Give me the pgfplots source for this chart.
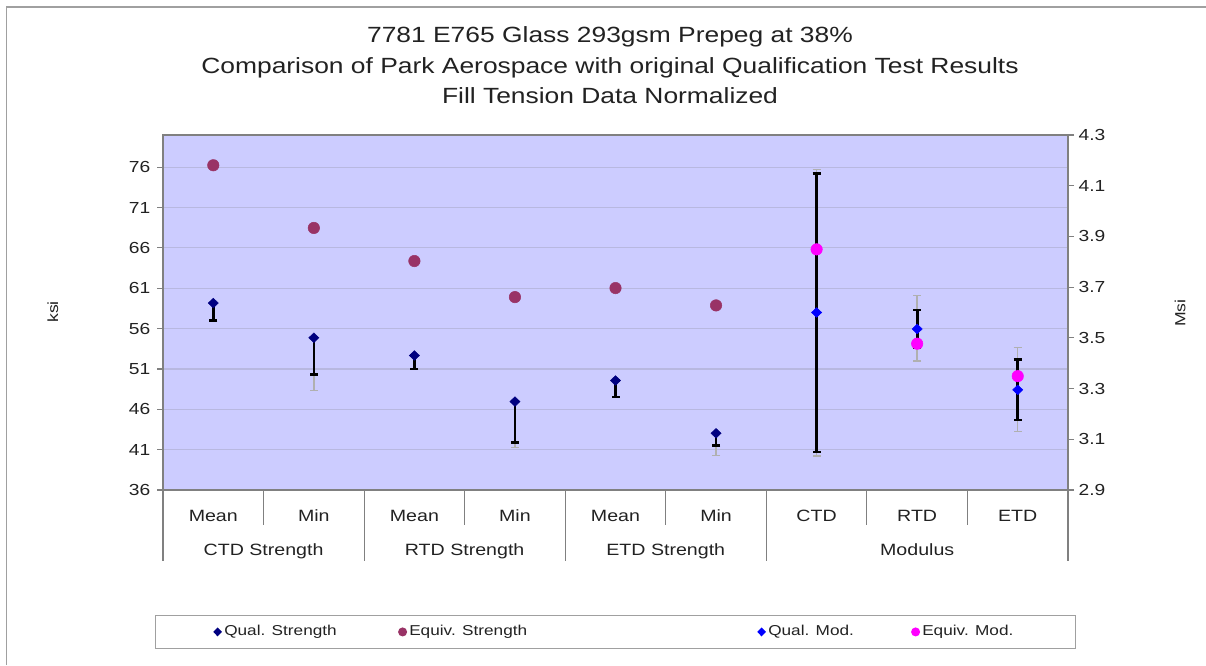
\documentclass[border=0pt]{standalone}
\usepackage{pgfplots}
\pgfplotsset{compat=1.18}
\usepackage{fontspec}
\setmainfont{Liberation Sans}[FakeStretch=1.2]
\definecolor{plotbg}{HTML}{CCCCFF}
\definecolor{gridcol}{RGB}{184,184,224}
\definecolor{axisgray}{HTML}{808080}
\definecolor{framecol}{HTML}{A0A0A0}
\definecolor{textcol}{HTML}{222222}
\definecolor{qnavy}{HTML}{000080}
\definecolor{eplum}{HTML}{993366}
\definecolor{qblue}{HTML}{0000FF}
\definecolor{emag}{HTML}{FF00FF}
\definecolor{errgrey}{HTML}{B0B0B0}
\pgfplotsset{legimg/.style={legend image code/.code={\draw[##1] plot coordinates {(0pt,0pt)}; \path (-#1,-3.5pt) rectangle (3.5pt,3.5pt);}}}
\begin{document}
\begin{tikzpicture}
\path[use as bounding box, fill=white] (0,0) rectangle (904.5pt,498.75pt);
\draw[framecol, line width=1.2pt] (5pt,0) -- (5pt,493.5pt) -- (904.5pt,493.5pt);
\node[anchor=base, font=\fontsize{16.5}{19}\selectfont, text=textcol] at (457.5pt,466.5pt) {7781 E765 Glass 293gsm Prepeg at 38\%};
\node[anchor=base, font=\fontsize{16.5}{19}\selectfont, text=textcol] at (457.5pt,443.25pt) {Comparison of Park Aerospace with original Qualification Test Results};
\node[anchor=base, font=\fontsize{16.5}{19}\selectfont, text=textcol] at (457.5pt,420.75pt) {Fill Tension Data Normalized};
\node[rotate=90, font=\fontsize{11}{13}\selectfont, text=textcol] at (39.75pt,264.75pt) {ksi};
\node[rotate=90, font=\fontsize{11}{13}\selectfont, text=textcol] at (885pt,264pt) {Msi};

\begin{axis}[
  at={(122.25pt,131.25pt)}, anchor=south west,
  width=678.75pt, height=266.25pt, scale only axis,
  xmin=-0.5, xmax=8.5, ymin=36, ymax=80,
  axis background/.style={fill=plotbg},
  axis line style={draw=axisgray, line width=1pt},
  xtick={0,...,8}, xticklabels={Mean,Min,Mean,Min,Mean,Min,CTD,RTD,ETD},
  xtick style={draw=none},
  ytick={36,41,...,76},
  ytick pos=left, tick align=outside, major tick length=4.5pt,
  ytick style={draw=axisgray, line width=0.8pt},
  ymajorgrids, grid style={draw=gridcol, line width=0.8pt},
  yticklabel style={font=\fontsize{12}{14}\selectfont, text=textcol, xshift=-1.5pt, /pgf/number format/assume math mode=true},
  xticklabel style={font=\fontsize{12.25}{14}\selectfont, text=textcol, anchor=base, yshift=-18.75pt},
  clip=false,
]
% separators under the axis
\draw[axisgray, line width=0.9pt] (axis cs:0.5,36) -- ++(0pt,-26.25pt);
\draw[axisgray, line width=0.9pt] (axis cs:2.5,36) -- ++(0pt,-26.25pt);
\draw[axisgray, line width=0.9pt] (axis cs:4.5,36) -- ++(0pt,-26.25pt);
\draw[axisgray, line width=0.9pt] (axis cs:6.5,36) -- ++(0pt,-26.25pt);
\draw[axisgray, line width=0.9pt] (axis cs:7.5,36) -- ++(0pt,-26.25pt);
\draw[axisgray, line width=0.9pt] (axis cs:-0.5,36) -- ++(0pt,-53.25pt);
\draw[axisgray, line width=0.9pt] (axis cs:1.5,36) -- ++(0pt,-53.25pt);
\draw[axisgray, line width=0.9pt] (axis cs:3.5,36) -- ++(0pt,-53.25pt);
\draw[axisgray, line width=0.9pt] (axis cs:5.5,36) -- ++(0pt,-53.25pt);
\draw[axisgray, line width=0.9pt] (axis cs:8.5,36) -- ++(0pt,-53.25pt);
\node[anchor=base, font=\fontsize{12.25}{14}\selectfont, text=textcol] at ([yshift=-48.75pt]axis cs:0.5,36) {CTD Strength};
\node[anchor=base, font=\fontsize{12.25}{14}\selectfont, text=textcol] at ([yshift=-48.75pt]axis cs:2.5,36) {RTD Strength};
\node[anchor=base, font=\fontsize{12.25}{14}\selectfont, text=textcol] at ([yshift=-48.75pt]axis cs:4.5,36) {ETD Strength};
\node[anchor=base, font=\fontsize{12.25}{14}\selectfont, text=textcol] at ([yshift=-48.75pt]axis cs:7,36) {Modulus};
% grey error bars
\addplot[draw=none, forget plot, error bars/.cd, y dir=both, y explicit,
  error bar style={draw=errgrey, line width=1.1pt},
  error mark options={rotate=90, draw=errgrey, line width=1.1pt, mark size=3pt}]
  coordinates {(1,54.87) += (0,0) -= (0,6.57) (3,46.96) += (0,0) -= (0,5.66) (5,43.03) += (0,0) -= (0,2.77)};
% black error bars
\addplot[draw=none, forget plot, error bars/.cd, y dir=both, y explicit,
  error bar style={draw=black, line width=2pt},
  error mark options={rotate=90, draw=black, line width=1.8pt, mark size=3pt}]
  coordinates {(0,59.17) += (0,0) -= (0,2.17) (1,54.87) += (0,0) -= (0,4.57) (2,52.67) += (0,0) -= (0,1.67)
               (3,46.96) += (0,0) -= (0,5.06) (4,49.57) += (0,0) -= (0,2.07) (5,43.03) += (0,0) -= (0,1.53)};
% Qual. Strength
\addplot[draw=none, forget plot, mark=diamond*, mark size=3.6pt, mark options={xscale=1.4, draw=qnavy, fill=qnavy}]
  coordinates {(0,59.17) (1,54.87) (2,52.67) (3,46.96) (4,49.57) (5,43.03)};
% Equiv. Strength
\addplot[draw=none, forget plot, mark=*, mark size=4.3pt, mark options={draw=eplum, fill=eplum}]
  coordinates {(0,76.25) (1,68.48) (2,64.38) (3,59.91) (4,61.03) (5,58.88)};
\end{axis}

\begin{axis}[
  at={(122.25pt,131.25pt)}, anchor=south west,
  width=678.75pt, height=266.25pt, scale only axis,
  xmin=-0.5, xmax=8.5, ymin=2.9, ymax=4.3,
  axis x line=none, axis y line*=right,
  axis line style={draw=axisgray, line width=1pt},
  ytick={2.9,3.1,3.3,3.5,3.7,3.9,4.1,4.3},
  tick align=outside, major tick length=4.5pt,
  ytick style={draw=axisgray, line width=0.8pt},
  yticklabel style={font=\fontsize{12}{14}\selectfont, text=textcol, /pgf/number format/.cd, fixed, fixed zerofill, precision=1, assume math mode=true},
  clip=false,
  legend columns=4,
  legend cell align=left,
  legend style={at={(-0.00884,-0.35211)}, anchor=north west, draw=framecol, line width=0.9pt,
    inner xsep=0pt, inner ysep=7pt, column sep=0pt,
    font=\fontsize{10.75}{12}\selectfont, text=textcol,
    nodes={inner sep=0pt, text height=8pt, text depth=2.5pt},
    /tikz/every even column/.append style={column sep=0pt}},
]
\addlegendimage{draw=none, mark=diamond*, mark size=2.7pt, mark options={xscale=1.3, draw=qnavy, fill=qnavy}, legimg=46.5pt}
\addlegendentry{\makebox[131.75pt][l]{\hspace{1.5pt}Qual. Strength}}
\addlegendimage{draw=none, mark=*, mark size=2.9pt, mark options={draw=eplum, fill=eplum}, legimg=3.5pt}
\addlegendentry{\makebox[262.25pt][l]{\hspace{1.5pt}Equiv. Strength}}
\addlegendimage{draw=none, mark=diamond*, mark size=2.7pt, mark options={xscale=1.3, draw=qblue, fill=qblue}, legimg=3.5pt}
\addlegendentry{\makebox[108.5pt][l]{\hspace{1.5pt}Qual. Mod.}}
\addlegendimage{draw=none, mark=*, mark size=2.9pt, mark options={draw=emag, fill=emag}, legimg=3.5pt}
\addlegendentry{\makebox[116.5pt][l]{\hspace{1.5pt}Equiv. Mod.}}
% grey error bars
\addplot[draw=none, forget plot, error bars/.cd, y dir=both, y explicit,
  error bar style={draw=errgrey, line width=1.1pt},
  error mark options={rotate=90, draw=errgrey, line width=1.1pt, mark size=3pt}]
  coordinates {(6,4.164) += (0,0) -= (0,1.129) (7,3.668) += (0,0) -= (0,0.26) (8,3.461) += (0,0) -= (0,0.331)};
% black error bars
\addplot[draw=none, forget plot, error bars/.cd, y dir=both, y explicit,
  error bar style={draw=black, line width=2pt},
  error mark options={rotate=90, draw=black, line width=1.8pt, mark size=3pt}]
  coordinates {(6,4.148) += (0,0) -= (0,1.097) (7,3.611) += (0,0) -= (0,0.151) (8,3.414) += (0,0) -= (0,0.237)};
% Qual. Mod.
\addplot[draw=none, forget plot, mark=diamond*, mark size=3.6pt, mark options={xscale=1.4, draw=qblue, fill=qblue}]
  coordinates {(6,3.600) (7,3.535) (8,3.295)};
% Equiv. Mod.
\addplot[draw=none, forget plot, mark=*, mark size=4.3pt, mark options={draw=emag, fill=emag}]
  coordinates {(6,3.849) (7,3.477) (8,3.349)};
\end{axis}
\end{tikzpicture}
\end{document}
